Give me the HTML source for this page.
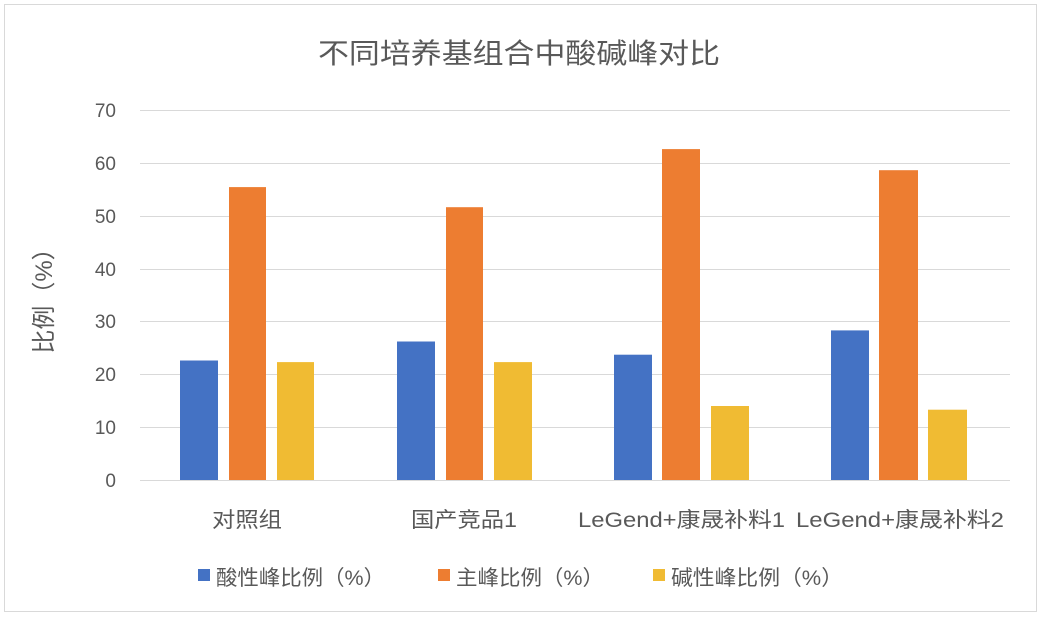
<!DOCTYPE html>
<html><head><meta charset="utf-8"><style>
body{margin:0;background:#fff}
svg text{font-family:"Liberation Sans","Noto Sans CJK SC",sans-serif;fill:#595959}
</style></head><body>
<svg width="1042" height="619" xmlns="http://www.w3.org/2000/svg">
<rect x="0" y="0" width="1042" height="619" fill="#fff"/>
<rect x="4.5" y="4.5" width="1032" height="607" fill="none" stroke="#d9d9d9"/>
<text x="318" y="63" font-size="28" textLength="402" lengthAdjust="spacingAndGlyphs">不同培养基组合中酸碱峰对比</text>
<g stroke="#d9d9d9" stroke-width="1">
<line x1="140" x2="1010" y1="110.5" y2="110.5"/>
<line x1="140" x2="1010" y1="163.5" y2="163.5"/>
<line x1="140" x2="1010" y1="216.5" y2="216.5"/>
<line x1="140" x2="1010" y1="269.5" y2="269.5"/>
<line x1="140" x2="1010" y1="321.5" y2="321.5"/>
<line x1="140" x2="1010" y1="374.5" y2="374.5"/>
<line x1="140" x2="1010" y1="427.5" y2="427.5"/>
<line x1="140" x2="1010" y1="480.5" y2="480.5"/>
</g>
<g font-size="19" text-anchor="end">
<text x="116" y="117">70</text><text x="116" y="170">60</text><text x="116" y="223">50</text>
<text x="116" y="276">40</text><text x="116" y="328">30</text><text x="116" y="381">20</text>
<text x="116" y="434">10</text><text x="116" y="487">0</text>
</g>
<text transform="translate(52,295) rotate(-90)" font-size="24" text-anchor="middle">比例（%）</text>
<g fill="#4472c4">
<rect x="180" y="360.5" width="38" height="119.5"/>
<rect x="397" y="341.5" width="38" height="138.5"/>
<rect x="614" y="354.7" width="38" height="125.3"/>
<rect x="831" y="330.4" width="38" height="149.6"/>
</g>
<g fill="#ed7d31">
<rect x="229" y="187.1" width="37" height="292.9"/>
<rect x="446" y="207.2" width="37" height="272.8"/>
<rect x="662" y="149.1" width="38" height="330.9"/>
<rect x="879" y="170.2" width="39" height="309.8"/>
</g>
<g fill="#f0bb33">
<rect x="277" y="362.1" width="37" height="117.9"/>
<rect x="494" y="362.1" width="38" height="117.9"/>
<rect x="711" y="406" width="38" height="74"/>
<rect x="928" y="409.7" width="39" height="70.3"/>
</g>
<g font-size="21">
<text x="212" y="527" textLength="70" lengthAdjust="spacingAndGlyphs">对照组</text>
<text x="411" y="527" textLength="106" lengthAdjust="spacingAndGlyphs">国产竞品1</text>
<text x="578" y="527" textLength="207" lengthAdjust="spacingAndGlyphs">LeGend+康晟补料1</text>
<text x="796" y="527" textLength="208" lengthAdjust="spacingAndGlyphs">LeGend+康晟补料2</text>
</g>
<g font-size="21">
<rect x="198" y="569" width="12" height="12" fill="#4472c4"/><text x="216" y="585" textLength="169" lengthAdjust="spacingAndGlyphs">酸性峰比例（%）</text>
<rect x="438" y="569" width="12" height="12" fill="#ed7d31"/><text x="456" y="585" textLength="148" lengthAdjust="spacingAndGlyphs">主峰比例（%）</text>
<rect x="653" y="569" width="12" height="12" fill="#f0bb33"/><text x="671" y="585" textLength="172" lengthAdjust="spacingAndGlyphs">碱性峰比例（%）</text>
</g>
</svg>
</body></html>
